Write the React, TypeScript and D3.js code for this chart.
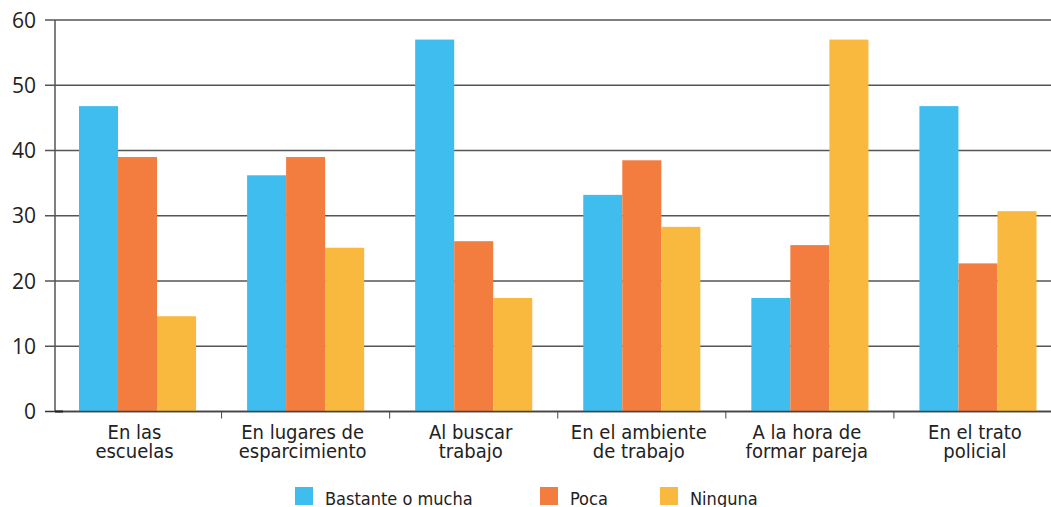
import * as d3 from 'd3';

const categories = [
  ['En las', 'escuelas'],
  ['En lugares de', 'esparcimiento'],
  ['Al buscar', 'trabajo'],
  ['En el ambiente', 'de trabajo'],
  ['A la hora de', 'formar pareja'],
  ['En el trato', 'policial'],
];
const seriesNames = ['Bastante o mucha', 'Poca', 'Ninguna'];
const bastante = [46.8, 36.2, 57.0, 33.2, 17.4, 46.8];
const poca = [39.0, 39.0, 26.1, 38.5, 25.5, 22.7];
const ninguna = [14.6, 25.1, 17.4, 28.3, 57.0, 30.7];
const yTicks = [0, 10, 20, 30, 40, 50, 60];

const colors = ['#3FBDEF', '#F37C3F', '#F9B83E'];
const font = '"Open Sans", "Noto Sans", sans-serif';
const condensed = '"DejaVu Sans Condensed", "DejaVu Sans", sans-serif';

export default function App() {
  const W = 1051;
  const H = 507;
  const left = 55;
  const right = 1051;
  const top = 20;
  const bottom = 411.5;

  const series = [bastante, poca, ninguna];
  // bands run slightly past the right edge, as in the original
  const x = d3.scaleBand<number>().domain(d3.range(categories.length)).range([53.5, 1062]);
  const inner = d3.scaleBand<number>().domain([0, 1, 2]).range([25.5, x.bandwidth() - 25.5]);
  const y = d3.scaleLinear().domain([0, 60]).range([bottom, top]);

  const legendX = [295, 540, 660];

  return (
    <svg width={W} height={H} style={{ position: 'absolute', left: 0, top: 0 }} fontFamily={font}>
      {/* grid */}
      {yTicks.map((t) => (
        <g key={t}>
          <line x1={45} x2={right} y1={y(t)} y2={y(t)} stroke={t === 0 ? '#333' : '#555'} strokeWidth={1.5} />
          <text x={36} y={y(t)} dy="0.36em" textAnchor="end" fontSize={21} fill="#222">
            {t}
          </text>
        </g>
      ))}
      {/* bars */}
      {categories.map((_, i) => (
        <g key={i}>
          {series.map((s, k) => (
            <rect
              key={k}
              x={(x(i) as number) + (inner(k) as number)}
              width={inner.bandwidth()}
              y={y(s[i])}
              height={y(0) - y(s[i])}
              fill={colors[k]}
            />
          ))}
        </g>
      ))}
      <line x1={left} x2={right} y1={y(0)} y2={y(0)} stroke="#444" strokeWidth={1.5} />
      <line x1={left} x2={left} y1={top} y2={bottom} stroke="#555" strokeWidth={1.5} />
      <line x1={left} x2={left + 8} y1={bottom} y2={bottom} stroke="#222" strokeWidth={2} />
      {/* category ticks */}
      {categories.slice(1).map((_, i) => (
        <line key={i} x1={x(i + 1)} x2={x(i + 1)} y1={bottom} y2={bottom + 7} stroke="#444" strokeWidth={1} />
      ))}
      {/* category labels */}
      {categories.map((lines, i) => (
        <text key={i} textAnchor="middle" fontSize={20} fill="#222" fontFamily={condensed}>
          {lines.map((l, j) => (
            <tspan key={j} x={(x(i) as number) + x.bandwidth() / 2 - 3} y={439 + j * 19}>
              {l}
            </tspan>
          ))}
        </text>
      ))}
      {/* legend */}
      {seriesNames.map((n, k) => (
        <g key={n}>
          <rect x={legendX[k]} y={487} width={18} height={18} fill={colors[k]} />
          <text x={legendX[k] + 30} y={505} fontSize={18} fill="#222" fontFamily={condensed}>
            {n}
          </text>
        </g>
      ))}
    </svg>
  );
}
